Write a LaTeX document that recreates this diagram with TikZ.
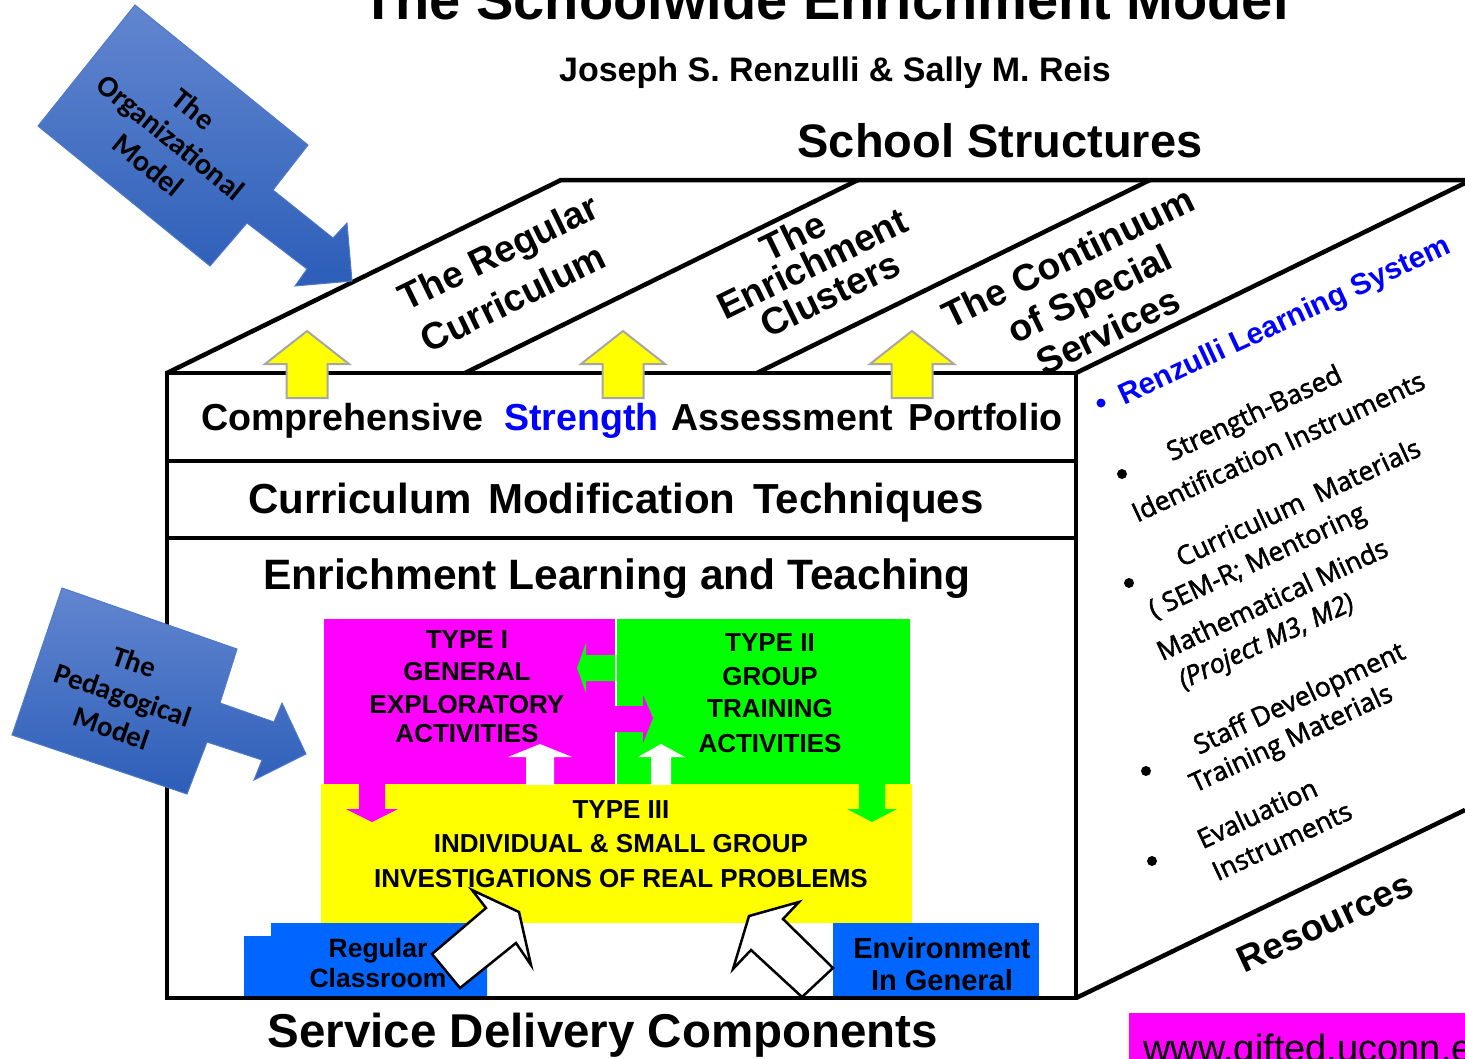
\documentclass[tikz,border=0pt]{standalone}
\usepackage{fontspec}
\setmainfont{Liberation Sans}
\newfontfamily\calib{Carlito}
\newfontfamily\osans{Open Sans}[FakeBold=2]
\newcommand\setfs[1]{\fontsize{#1}{#1}\selectfont}
\definecolor{mag}{RGB}{255,0,255}
\definecolor{grn}{RGB}{0,255,0}
\definecolor{yel}{RGB}{255,255,0}
\definecolor{boxblue}{RGB}{0,102,255}
\definecolor{txtblue}{RGB}{0,0,255}
\definecolor{arrtop}{RGB}{98,134,208}
\definecolor{arrbot}{RGB}{44,94,184}
\definecolor{arredge}{RGB}{80,120,200}
\definecolor{ygray}{RGB}{166,166,166}
\tikzset{
  face/.style={line width=4.5pt, line join=miter},
  txt/.style={inner sep=0pt, anchor=base},
  rtxt/.style={inner sep=0pt, anchor=center},
  bluearrow/.style={draw=arredge, line width=1pt, top color=arrtop, bottom color=arrbot},
  yarrow/.style={fill=yel, draw=ygray, line width=2pt},
  warrow/.style={fill=white, draw=black, line width=2.5pt, line join=miter},
}
\begin{document}
\begin{tikzpicture}[x=1pt,y=-1pt]
\useasboundingbox (0,0) rectangle (1465,1058);
\clip (0,0) rectangle (1465,1058);

% titles
\node[txt, font={\setfs{56}\bfseries}] (title) at (825,19) {The Schoolwide Enrichment Model};
\node[txt, font={\setfs{34}\bfseries}] (authors) at (835,81) {Joseph S. Renzulli \& Sally M. Reis};
\node[txt, font={\setfs{47}\bfseries}] (structures) at (1000,157) {School Structures};
\node[txt, font={\setfs{47.5}\bfseries}] (service) at (603,1047) {Service Delivery Components};

% coloured type boxes
\fill[mag] (324,619) rectangle (615,785);
\fill[grn] (617,619) rectangle (910,785);
\fill[yel] (321,784) rectangle (912,923);
% small arrows between the boxes
\fill[grn] (615,655) -- (586,655) -- (586,643) -- (577,668) -- (586,693) -- (586,681) -- (615,681) -- cycle;
\fill[mag] (614,706) -- (643,706) -- (643,695) -- (653,718) -- (643,743) -- (643,732) -- (614,732) -- cycle;
\fill[white] (526,785) -- (526,757) -- (508,757) -- (540,744) -- (572,757) -- (554,757) -- (554,785) -- cycle;
\fill[white] (651,785) -- (651,757) -- (638,757) -- (661,744) -- (685,757) -- (671,757) -- (671,785) -- cycle;
\fill[mag] (359,784) -- (385,784) -- (385,809) -- (398,809) -- (372,822) -- (346,809) -- (359,809) -- cycle;
\fill[grn] (859,784) -- (885,784) -- (885,809) -- (897,809) -- (872,822) -- (847,809) -- (859,809) -- cycle;

\begin{scope}[every node/.style={txt, font={\setfs{26}\bfseries}}]
\node (t1a) at (467,648) {TYPE I};
\node (t1b) at (467,680) {GENERAL};
\node (t1c) at (467,713) {EXPLORATORY};
\node (t1d) at (467,742) {ACTIVITIES};
\node (t2a) at (770,651) {TYPE II};
\node (t2b) at (770,685) {GROUP};
\node (t2c) at (770,717) {TRAINING};
\node (t2d) at (770,752) {ACTIVITIES};
\node (t3a) at (621,818) {TYPE III};
\node (t3b) at (621,852) {INDIVIDUAL \& SMALL GROUP};
\node (t3c) at (621,887) {INVESTIGATIONS OF REAL PROBLEMS};
\end{scope}

% blue boxes
\fill[boxblue] (244,936) -- (271,936) -- (271,923) -- (487,923) -- (487,997) -- (244,997) -- cycle;
\fill[boxblue] (833,923) rectangle (1039,997);
\node[txt, font={\setfs{26.5}\bfseries}] (reg1) at (378,957) {Regular};
\node[txt, font={\setfs{26.5}\bfseries}] (reg2) at (378,987) {Classroom};
\node[txt, font={\setfs{29}\bfseries}] (env1) at (942,958) {Environment};
\node[txt, font={\setfs{29}\bfseries}] (env2) at (942,990) {In General};

% white arrows into type III
\draw[warrow] (432,954) -- (486,908) -- (472,890) -- (519,912) -- (531,965) -- (516,943) -- (460,988) -- cycle;
\draw[warrow] (802,997) -- (833,968) -- (783,919) -- (799,902) -- (749,916) -- (733,969) -- (751,950) -- cycle;

% the box
\draw[face] (167,373) rectangle (1076,998);
\draw[face] (167,461) -- (1076,461);
\draw[face] (167,538) -- (1076,538);
\draw[face] (167,373) -- (561,180) -- (1465,180);
\draw[face] (465,373) -- (858,180);
\draw[face] (757,373) -- (1150,180);
\draw[face] (1076,373) -- (1465,183);
\draw[face] (1076,998) -- (1465,810);

% band texts
\node[txt, anchor=base west, font={\setfs{37.6}\bfseries}] (cs1) at (201,430) {Comprehensive};
\node[txt, anchor=base west, font={\setfs{37.6}\bfseries}, text=txtblue] (cs2) at (504,430) {Strength};
\node[txt, anchor=base west, font={\setfs{37.6}\bfseries}] (cs3) at (671,430) {Assessment};
\node[txt, anchor=base west, font={\setfs{37.6}\bfseries}] (cs4) at (908,430) {Portfolio};
\node[txt, anchor=base west, font={\setfs{42}\bfseries}] (cm1) at (248,513) {Curriculum};
\node[txt, anchor=base west, font={\setfs{42}\bfseries}] (cm2) at (488,513) {Modification};
\node[txt, anchor=base west, font={\setfs{42}\bfseries}] (cm3) at (753,513) {Techniques};
\node[txt, font={\setfs{42.5}\bfseries}] (elt) at (617,589) {Enrichment Learning and Teaching};

% yellow up arrows
\foreach \c in {307,623,912}
  \draw[yarrow] (\c-20.5,398) -- (\c-20.5,364) -- (\c-42,364) -- (\c,331) -- (\c+42,364) -- (\c+20.5,364) -- (\c+20.5,398) -- cycle;

% top face labels
\begin{scope}[every node/.style={rtxt, rotate=26, font={\setfs{37.5}\bfseries}}]
\node (rc1) at (500,255) {The Regular};
\node (rc2) at (513,298) {Curriculum};
\node (ec1) at (793,236) {The};
\node (ec2) at (812,263) {Enrichment};
\node (ec3) at (830,294) {Clusters};
\node (cs1b) at (1068,257) {The Continuum};
\node (cs2b) at (1091,297) {of Special};
\node (cs3b) at (1108,331) {Services};
\end{scope}

% right face
\node[rtxt, rotate=25, font={\setfs{29.7}\bfseries}, text=txtblue] (rls) at (1285,322) {Renzulli Learning System};
\fill[txtblue] (1101,403) circle[radius=4.5pt];
\begin{scope}[every node/.style={rtxt, rotate=25, font={\setfs{26.5}\osans}}]
\node (r1a) at (1255,415) {Strength-Based};
\node (r1b) at (1278,446) {Identification Instruments};
\node (r2a) at (1298,502) {Curriculum~~Materials};
\node (r2b) at (1258,563) {( SEM-R; Mentoring};
\node (r2c) at (1272,599) {Mathematical Minds};
\node (r2d) at (1267,643) {\itshape (Project M3, M2)};
\node (r3a) at (1300,700) {Staff Development};
\node (r3b) at (1292,740) {Training Materials};
\node (r4a) at (1257,813) {Evaluation};
\node (r4b) at (1282,841) {Instruments};
\end{scope}
\fill (1122,474) circle[radius=5pt];
\fill (1129,583) circle[radius=5pt];
\fill (1146,771) circle[radius=5pt];
\fill (1152,861) circle[radius=5pt];
\node[rtxt, rotate=25, font={\setfs{37}\bfseries}] (res) at (1325,922) {Resources};

% blue model arrows
\path[bluearrow] (135,5) -- (308,145) -- (273,190) -- (333,238) -- (347,223) -- (352,281) -- (295,286) -- (307,269) -- (247,223) -- (210,266) -- (38,126) -- cycle;
\node[rtxt, rotate=-39, align=center, font={\fontsize{30}{36}\selectfont\calib\bfseries}] (org) at (171,137) {The\\Organizational\\Model};
\path[bluearrow] (62,588) -- (237,649) -- (220,703) -- (274,722) -- (282,703) -- (306,754) -- (254,780) -- (262,760) -- (207,742) -- (187,794) -- (12,735) -- cycle;
\node[rtxt, rotate=-19, align=center, font={\fontsize{29}{35}\selectfont\calib\bfseries}] (ped) at (123,695) {The\\Pedagogical\\Model};

% url
\fill[mag] (1129,1013) rectangle (1470,1065);
\node[txt, anchor=base west, font={\setfs{38}}] (url) at (1143,1061) {www.gifted.uconn.edu};
\end{tikzpicture}
\end{document}
